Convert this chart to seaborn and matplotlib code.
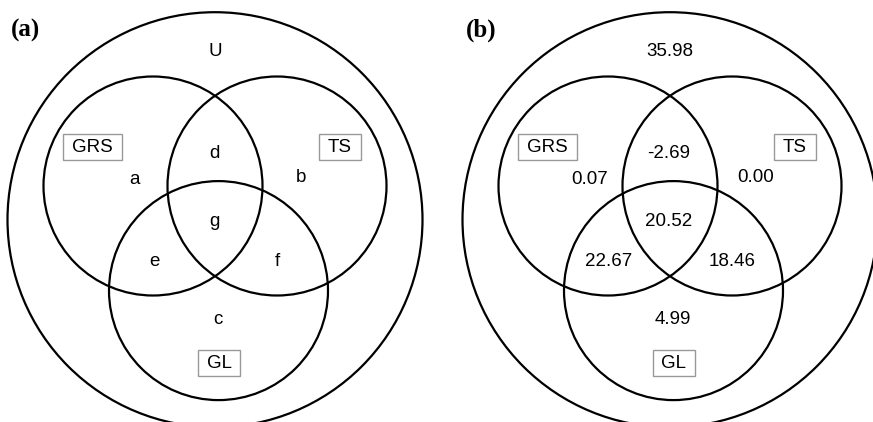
import matplotlib
matplotlib.use('Agg')
import matplotlib.pyplot as plt
from matplotlib.patches import Circle, Rectangle
import seaborn as sns

# Data: set names, region labels (panel a) and region values (panel b)
set_names = ['GRS', 'TS', 'GL']
region_letters = ['U', 'a', 'b', 'c', 'd', 'e', 'f', 'g']
region_values = [35.98, 0.07, 0.00, 4.99, -2.69, 22.67, 18.46, 20.52]
panel_tags = ['(a)', '(b)']

# Layout (pixel coordinates of panel a, panel b is shifted right)
panel_shift = [0, 455]
outer = (215, 219.7, 207.5)
circles = {'GRS': (153, 186), 'TS': (277, 186), 'GL': (218.5, 290.6)}
radius = 109.5
boxes = {'GRS': (63, 134, 59, 26), 'TS': (319, 134, 42, 26), 'GL': (198, 350, 42, 26)}
region_pos = {'U': (215, 52), 'a': (135, 180), 'b': (301, 178), 'c': (218, 320),
              'd': (214, 154), 'e': (154, 262), 'f': (277, 261), 'g': (214, 221)}

sns.set_theme(style='white')
plt.rcParams['font.family'] = ['Liberation Sans', 'DejaVu Sans']
plt.rcParams['text.color'] = 'black'

fig = plt.figure(figsize=(8.73, 4.22), dpi=100)
ax = fig.add_axes([0, 0, 1, 1])
ax.set_xlim(0, 873)
ax.set_ylim(422, 0)
ax.set_aspect('equal')
ax.axis('off')

for p, dx in enumerate(panel_shift):
    ax.add_patch(Circle((outer[0] + dx, outer[1]), outer[2], fill=False, ec='black', lw=1.6))
    for name in set_names:
        cx, cy = circles[name]
        ax.add_patch(Circle((cx + dx, cy), radius, fill=False, ec='black', lw=1.6))
    for name in set_names:
        bx, by, bw, bh = boxes[name]
        ax.add_patch(Rectangle((bx + dx, by), bw, bh, fc='white', ec='#999999', lw=1, zorder=3))
        ax.text(bx + dx + bw / 2, by + bh / 2 + 0.5, name, ha='center', va='center',
                fontsize=13.5, color='black', zorder=4)
    labels = region_letters if p == 0 else [f'{v:.2f}' for v in region_values]
    for key, lab in zip(region_letters, labels):
        x, y = region_pos[key]
        ax.text(x + dx, y, lab, ha='center', va='center', fontsize=13.5, color='black')
    ax.text(11 + dx, 30, panel_tags[p], ha='left', va='center', fontsize=18,
            fontweight='bold', color='black', family=['Liberation Serif', 'DejaVu Serif'])

plt.savefig('out.png', dpi=100)
